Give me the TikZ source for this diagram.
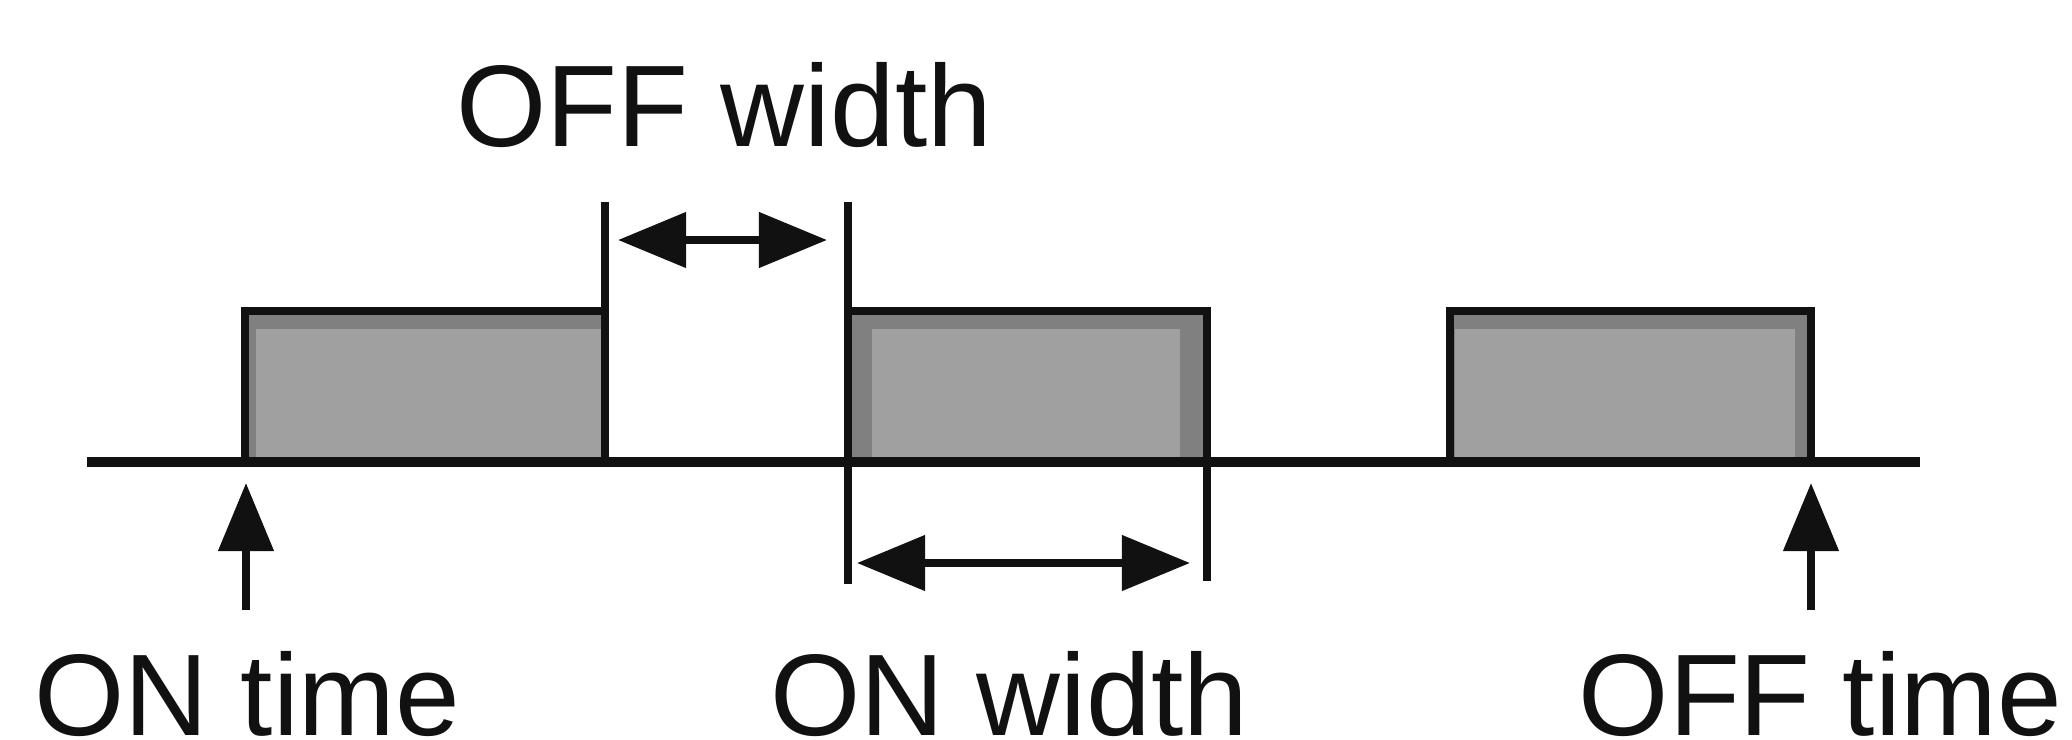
\documentclass[tikz,border=0pt]{standalone}
\usepackage{fontspec}
\setmainfont{Liberation Sans}
\usetikzlibrary{arrows.meta}
\definecolor{fillhi}{HTML}{A0A0A0}
\definecolor{filllo}{HTML}{808080}
\definecolor{ink}{HTML}{111111}
\tikzset{
  pulseline/.style={line width=2.4pt, draw=ink, line join=miter},
  axisline/.style={line width=2.8pt, draw=ink},
  dimline/.style={line width=2pt, draw=ink},
  bigtip/.tip={Triangle[length=0.68cm,width=0.54cm]},
  dimarrow/.style={line width=2.2pt, draw=ink, fill=ink, {bigtip}-{bigtip}},
  uparrow/.style={line width=2.2pt, draw=ink, fill=ink, -{bigtip}},
  lbl/.style={inner sep=0pt, anchor=base west, text=ink, font=\fontsize{33}{40}\selectfont}
}
\begin{document}
\begin{tikzpicture}[x=0.01cm,y=-0.01cm]
\useasboundingbox (0,0) rectangle (2072,739);
% key coordinates
\coordinate (axL) at (87,462);
\coordinate (axR) at (1920,462);
\coordinate (p1bl) at (245,462); \coordinate (p1tl) at (245,311);
\coordinate (p1tr) at (605,311); \coordinate (p1br) at (605,462);
\coordinate (p2bl) at (848,462); \coordinate (p2tl) at (848,311);
\coordinate (p2tr) at (1207,311); \coordinate (p2br) at (1207,462);
\coordinate (p3bl) at (1450,462); \coordinate (p3tl) at (1450,311);
\coordinate (p3tr) at (1811,311); \coordinate (p3br) at (1811,462);
\coordinate (offL) at (605,202); \coordinate (offR) at (848,202);
\coordinate (onL) at (848,584); \coordinate (onR) at (1207,581);
\coordinate (offAL) at (618,240); \coordinate (offAR) at (827,240);
\coordinate (onAL) at (857,563); \coordinate (onAR) at (1190,563);
\coordinate (ontS) at (246,610); \coordinate (ontT) at (246,483);
\coordinate (offtS) at (1811,610); \coordinate (offtT) at (1811,483);
% pulse fills
\fill[filllo] (p1tl) rectangle (p1br);
\fill[fillhi] (256,329) rectangle (601,457);
\fill[filllo] (p2tl) rectangle (p2br);
\fill[fillhi] (872,329) rectangle (1180,457);
\fill[filllo] (p3tl) rectangle (p3br);
\fill[fillhi] (1455,329) rectangle (1795,457);
% axis and pulses
\draw[axisline] (axL) -- (axR);
\draw[pulseline] (p1bl) -- (p1tl) -- (p1tr) -- (p1br);
\draw[pulseline] (p2bl) -- (p2tl) -- (p2tr) -- (p2br);
\draw[pulseline] (p3bl) -- (p3tl) -- (p3tr) -- (p3br);
% dimension lines
\draw[dimline] (p1tr) -- (offL);
\draw[dimline] (p2tl) -- (offR);
\draw[dimline] (p2bl) -- (onL);
\draw[dimline] (p2br) -- (onR);
\draw[dimarrow] (offAL) -- (offAR);
\draw[dimarrow] (onAL) -- (onAR);
\draw[uparrow] (ontS) -- (ontT);
\draw[uparrow] (offtS) -- (offtT);
% labels
\node[lbl] (offw) at (456,146) {OFF width};
\node[lbl] (ont) at (34,735) {ON time};
\node[lbl] (onw) at (770,735) {ON width};
\node[lbl] (offt) at (1578,735) {OFF time};
\end{tikzpicture}
\end{document}
